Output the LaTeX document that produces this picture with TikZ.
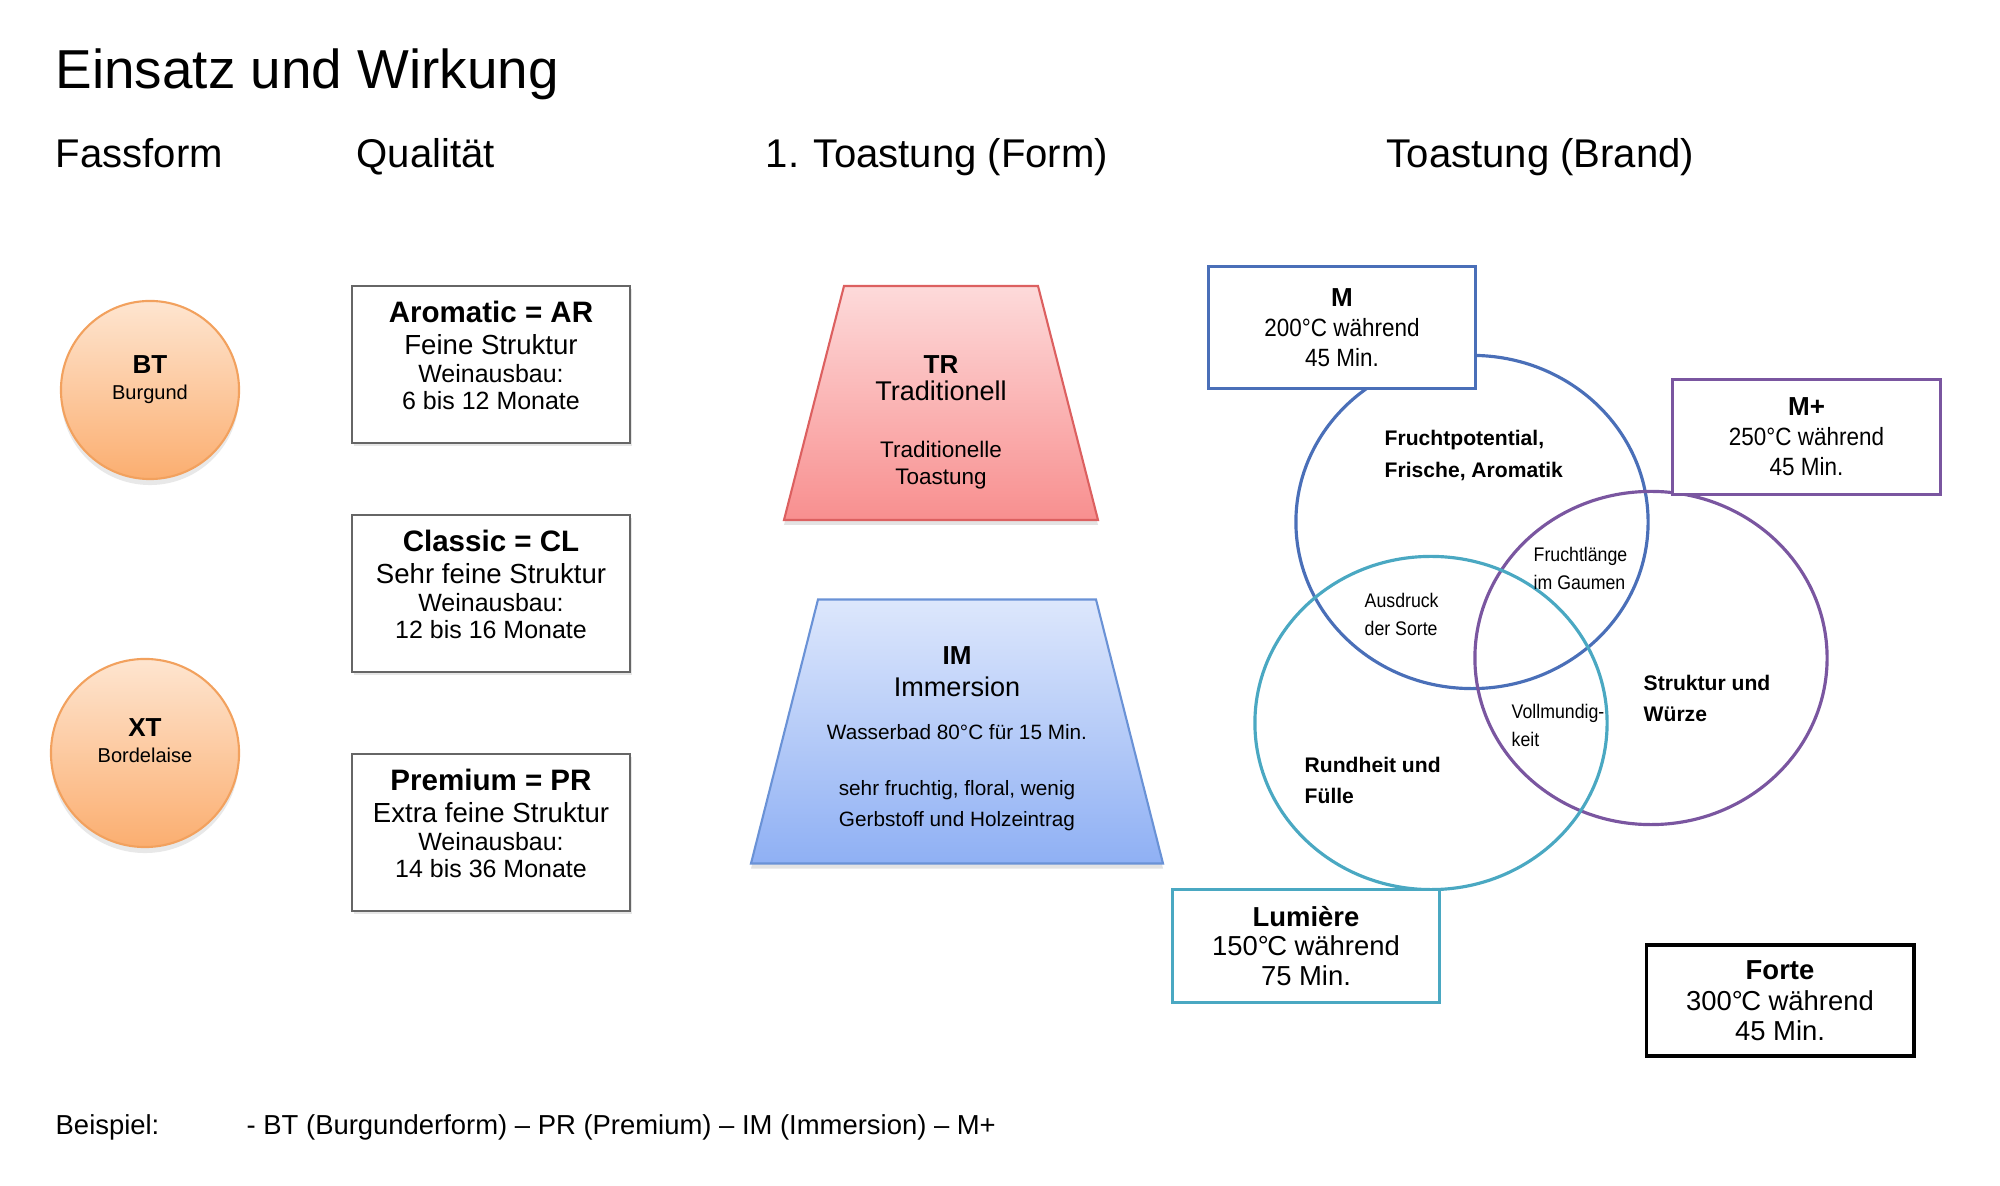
\documentclass[tikz,border=0pt]{standalone}
\usepackage{fontspec}
\setmainfont{Liberation Sans}
\newfontfamily\narrowfont{Liberation Sans}[FakeStretch=0.9]
\usepackage{tikz}
\usetikzlibrary{shapes.geometric,shadows}
\definecolor{fassborder}{HTML}{F2A15E}
\definecolor{fasstop}{HTML}{FEE5D0}
\definecolor{fassbottom}{HTML}{FBAE70}
\definecolor{trtop}{HTML}{FDDADA}
\definecolor{trbottom}{HTML}{F88F8F}
\definecolor{trborder}{HTML}{DC6060}
\definecolor{imtop}{HTML}{DDE7FC}
\definecolor{imbottom}{HTML}{8FB0F4}
\definecolor{imborder}{HTML}{6A92D6}
\definecolor{mblue}{HTML}{4A6FB8}
\definecolor{mplus}{HTML}{7A56A0}
\definecolor{lumiere}{HTML}{4AA8C2}
\newcommand{\fsz}[2]{\fontsize{#1}{#2}\selectfont}
\newcommand{\fassname}[1]{{\fsz{7.4pt}{7.6pt}\bfseries #1}}
\newcommand{\fasssub}[1]{{\fsz{5.7pt}{7.6pt}#1}}
\newcommand{\qualname}[1]{{\fsz{8.4pt}{8.2pt}\bfseries #1}}
\newcommand{\qualsub}[1]{{\fsz{7.85pt}{8.2pt}#1}}
\newcommand{\brandname}[1]{{\fsz{7.4pt}{8.5pt}\bfseries #1}}
\newcommand{\brandtext}[1]{{\narrowfont\fsz{7.1pt}{8.5pt}#1}}

\begin{document}
\begin{tikzpicture}[x=0.01cm, y=-0.01cm,
  title/.style={anchor=base west, inner sep=0pt, font=\fsz{15.6pt}{18pt}},
  colhead/.style={anchor=base west, inner sep=0pt, font=\fsz{11.4pt}{13pt}},
  fass/.style={circle, draw=fassborder, line width=0.6pt, top color=fasstop,
               bottom color=fassbottom, minimum size=#1, inner sep=0pt, align=center,
               font=\fsz{5.7pt}{7.6pt}, text depth=7.1pt,
               drop shadow={opacity=0.18, shadow xshift=0pt, shadow yshift=-0.06cm}},
  qual/.style={draw=black!60, line width=0.45pt, fill=white, minimum width=2.78cm,
               minimum height=1.57cm, inner sep=0pt, align=center, font=\fsz{7.1pt}{8.2pt},
               text depth=5.4pt,
               drop shadow={opacity=0.2, shadow xshift=0.02cm, shadow yshift=-0.03cm}},
  toast/.style={line width=0.6pt,
                drop shadow={opacity=0.22, shadow xshift=0pt, shadow yshift=-0.05cm}},
  brand/.style={draw=#1, line width=0.85pt, fill=white, minimum width=2.67cm,
                inner sep=0pt, align=center, font=\fsz{7.1pt}{8.5pt}},
  venn/.style={ellipse, draw=#1, line width=0.9pt, minimum width=3.52cm,
               minimum height=3.33cm, inner sep=0pt},
  vlab/.style={anchor=base west, inner sep=0pt, align=left, font=\fsz{6pt}{8.9pt}\bfseries},
  vsmall/.style={anchor=base west, inner sep=0pt, align=left, font=\narrowfont\fsz{5.6pt}{8.2pt}},
  note/.style={anchor=base west, inner sep=0pt, font=\fsz{7.8pt}{9pt}}]
\useasboundingbox (0,0) rectangle (2000,1186);
\node[title] (titel) at (55,89) {Einsatz und Wirkung};
\node[colhead] (hfass)  at (55,168)   {Fassform};
\node[colhead] (hqual)  at (356,168)  {Qualität};
\node[colhead] (hform)  at (765,168)  {1. Toastung (Form)};
\node[colhead] (hbrand) at (1386,168) {Toastung (Brand)};
\node[fass=1.78cm] (bt) at (150,390) {\fassname{BT}\\\fasssub{Burgund}};
\node[fass=1.88cm] (xt) at (145,753) {\fassname{XT}\\\fasssub{Bordelaise}};
\foreach \n/\y/\name/\struktur/\dauer in {ar/364.5/Aromatic = AR/Feine Struktur/6 bis 12 Monate,
    cl/593.5/Classic = CL/Sehr feine Struktur/12 bis 16 Monate,
    pr/832.5/Premium = PR/Extra feine Struktur/14 bis 36 Monate}
  \node[qual] (\n) at (491,\y) {\qualname{\name}\\[0.9pt]\qualsub{\struktur}\\Weinausbau:\\[-0.7pt]\dauer};
\path[toast, draw=trborder, top color=trtop, bottom color=trbottom]
  (844,286) -- (1038,286) -- (1098,520) -- (784,520) -- cycle;
\node[align=center, inner sep=0pt, font=\fsz{6.4pt}{7.7pt}] (tr) at (941,422)
  {{\fsz{7.4pt}{7.7pt}\bfseries TR}\\{\fsz{7.7pt}{7.7pt}Traditionell}\\[8.5pt]Traditionelle\\Toastung};
\path[toast, draw=imborder, top color=imtop, bottom color=imbottom]
  (818,599.5) -- (1096,599.5) -- (1163,863.5) -- (751,863.5) -- cycle;
\node[align=center, inner sep=0pt, font=\fsz{5.9pt}{9pt}] (im) at (957,739)
  {{\fsz{7.4pt}{9pt}\bfseries IM}\\{\fsz{7.7pt}{9pt}Immersion}\\[3.2pt]Wasserbad 80°C für 15 Min.\\[6.9pt]sehr fruchtig, floral, wenig\\Gerbstoff und Holzeintrag};
\node[venn=mblue]   (vm)     at (1472,522) {};
\node[venn=mplus]   (vmplus) at (1651,658) {};
\node[venn=lumiere] (vlum)   at (1431,723) {};
\node[brand=mblue, minimum height=1.21cm] (m) at (1342,327.5)
  {\brandname{M}\\\brandtext{200°C während}\\\brandtext{45 Min.}};
\node[brand=mplus, minimum height=1.14cm] (mplusbox) at (1806.5,437)
  {\brandname{M+}\\\brandtext{250°C während}\\\brandtext{45 Min.}};
\node[brand=lumiere, minimum height=1.13cm, font=\fsz{7.8pt}{8.5pt}] (lum) at (1306,946)
  {\textbf{Lumière}\\150°\kern-.06emC während\\75 Min.};
\node[brand=black, line width=1.1pt, minimum height=1.11cm, font=\fsz{7.8pt}{8.5pt}] (forte) at (1780,1000.5)
  {\textbf{Forte}\\[0.3pt]300°\kern-.06emC während\\45 Min.};
\node[vlab]   (lfrucht)   at (1384,477.3) {Fruchtpotential,\\Frische, Aromatik};
\node[vsmall] (lsorte)    at (1364,636)   {Ausdruck\\der Sorte};
\node[vsmall] (llaenge)   at (1533,590)   {Fruchtlänge\\im Gaumen};
\node[vsmall] (lvoll)     at (1511,747)   {Vollmundig-\\keit};
\node[vlab]   (lstruktur) at (1643,722)   {Struktur und\\Würze};
\node[vlab]   (lrund)     at (1304,803.5) {Rundheit und\\Fülle};
\node[note] (bsp)      at (55,1134)  {Beispiel:};
\node[note] (bspkette) at (246,1134) {- BT (Burgunderform) -- PR (Premium) -- IM (Immersion) -- M+};
\end{tikzpicture}
\end{document}
